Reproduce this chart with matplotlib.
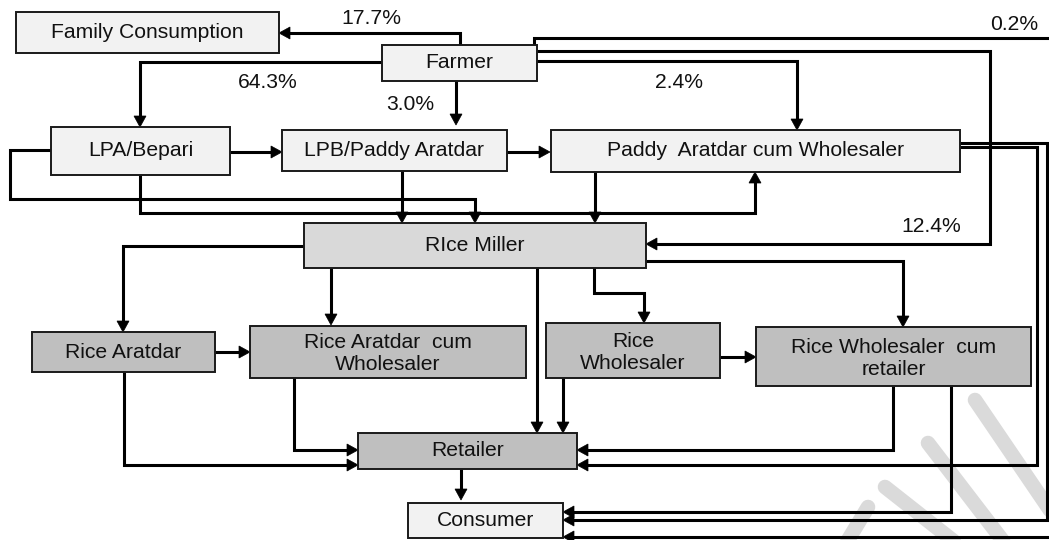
import matplotlib
matplotlib.use("Agg")
import matplotlib.pyplot as plt
from matplotlib.patches import Rectangle, Polygon

plt.rcParams['font.family'] = ['Liberation Sans', 'DejaVu Sans']

# ---- data ----
node_names = ["family", "farmer", "lpa", "lpb", "paddy", "miller", "raratdar",
              "racw", "rwhole", "rwcr", "retailer", "consumer"]
node_labels = ["Family Consumption", "Farmer", "LPA/Bepari", "LPB/Paddy Aratdar",
               "Paddy  Aratdar cum Wholesaler", "RIce Miller", "Rice Aratdar",
               "Rice Aratdar  cum\nWholesaler", "Rice\nWholesaler",
               "Rice Wholesaler  cum\nretailer", "Retailer", "Consumer"]
share_labels = ["17.7%", "64.3%", "3.0%", "2.4%", "0.2%", "12.4%"]

# ---- layout (pixel space) ----
boxes = {
    "family":   (16, 12, 279, 53, "#f2f2f2"),
    "farmer":   (382, 45, 537, 81, "#f2f2f2"),
    "lpa":      (51, 127, 230, 175, "#f2f2f2"),
    "lpb":      (282, 130, 507, 171, "#f2f2f2"),
    "paddy":    (551, 130, 960, 172, "#f2f2f2"),
    "miller":   (304, 223, 646, 268, "#d9d9d9"),
    "raratdar": (32, 332, 215, 372, "#bfbfbf"),
    "racw":     (250, 326, 526, 378, "#bfbfbf"),
    "rwhole":   (546, 323, 720, 378, "#bfbfbf"),
    "rwcr":     (756, 327, 1031, 386, "#bfbfbf"),
    "retailer": (358, 433, 577, 469, "#bfbfbf"),
    "consumer": (408, 503, 563, 538, "#f2f2f2"),
}
text_offsets = {"rwcr": 2, "rwhole": 2, "racw": 1}

connectors = [
    ([(460, 45), (460, 33), (279, 33)], True),
    ([(382, 62), (140, 62), (140, 127)], True),
    ([(456, 81), (456, 125)], True),
    ([(534, 45), (534, 38), (1049, 38)], False),
    ([(537, 51), (990, 51), (990, 244), (646, 244)], True),
    ([(537, 61), (797, 61), (797, 130)], True),
    ([(230, 152), (282, 152)], True),
    ([(507, 152), (550, 152)], True),
    ([(51, 150), (10, 150), (10, 199), (475, 199), (475, 223)], True),
    ([(140, 175), (140, 213), (755, 213), (755, 172)], True),
    ([(402, 171), (402, 223)], True),
    ([(595, 172), (595, 223)], True),
    ([(960, 147), (1037, 147), (1037, 465), (577, 465)], True),
    ([(960, 143), (1047, 143), (1047, 520), (563, 520)], True),
    ([(1049, 537), (563, 537)], True),
    ([(304, 246), (123, 246), (123, 332)], True),
    ([(331, 268), (331, 325)], True),
    ([(594, 268), (594, 293), (644, 293), (644, 323)], True),
    ([(646, 261), (903, 261), (903, 327)], True),
    ([(537, 268), (537, 433)], True),
    ([(215, 352), (250, 352)], True),
    ([(720, 357), (756, 357)], True),
    ([(563, 378), (563, 433)], True),
    ([(294, 378), (294, 450), (358, 450)], True),
    ([(124, 372), (124, 465), (358, 465)], True),
    ([(893, 386), (893, 450), (577, 450)], True),
    ([(951, 386), (951, 512), (563, 512)], True),
    ([(461, 469), (461, 500)], True),
]

share_pos = [(371, 18), (268, 83), (410, 105), (679, 83), (1014, 25), (931, 226)]

watermark = [
    [(975, 400), (1060, 525)],
    [(928, 443), (1010, 550)],
    [(885, 487), (965, 550)],
    [(868, 507), (845, 545)],
]

# ---- draw ----
fig = plt.figure(figsize=(10.49, 5.40), dpi=100)
ax = fig.add_axes([0, 0, 1, 1])
ax.set_xlim(0, 1049)
ax.set_ylim(540, 0)
ax.axis('off')

for seg in watermark:
    xs, ys = zip(*seg)
    ax.plot(xs, ys, color="#dadada", lw=10.5, solid_capstyle='round', zorder=0)

HL, HW = 11, 12
for pts, arrow in connectors:
    pts = list(pts)
    if arrow:
        (x0, y0), (x1, y1) = pts[-2], pts[-1]
        dx, dy = x1 - x0, y1 - y0
        L = (dx * dx + dy * dy) ** 0.5
        ux, uy = dx / L, dy / L
        bx, by = x1 - ux * HL, y1 - uy * HL
        px, py = -uy, ux
        head = [(x1, y1), (bx + px * HW / 2, by + py * HW / 2), (bx - px * HW / 2, by - py * HW / 2)]
        ax.add_patch(Polygon(head, closed=True, facecolor='black', edgecolor='black', lw=0.5, zorder=4))
        pts[-1] = (bx + ux * 1, by + uy * 1)
    xs, ys = zip(*pts)
    ax.plot(xs, ys, color='black', lw=2.2, solid_joinstyle='miter', solid_capstyle='butt', zorder=3)

for name, label in zip(node_names, node_labels):
    x0, y0, x1, y1, fc = boxes[name]
    ax.add_patch(Rectangle((x0, y0), x1 - x0, y1 - y0, facecolor=fc, edgecolor='#1a1a1a', lw=1.4, zorder=5))
    ax.text((x0 + x1) / 2, (y0 + y1) / 2 + text_offsets.get(name, 0), label, ha='center', va='center',
            fontsize=15.2, color='#111111', linespacing=1.2, zorder=6)

for lab, (x, y) in zip(share_labels, share_pos):
    ax.text(x, y, lab, ha='center', va='center', fontsize=15.2, color='#111111', zorder=6)

fig.savefig("out.png", dpi=100, facecolor='white')
